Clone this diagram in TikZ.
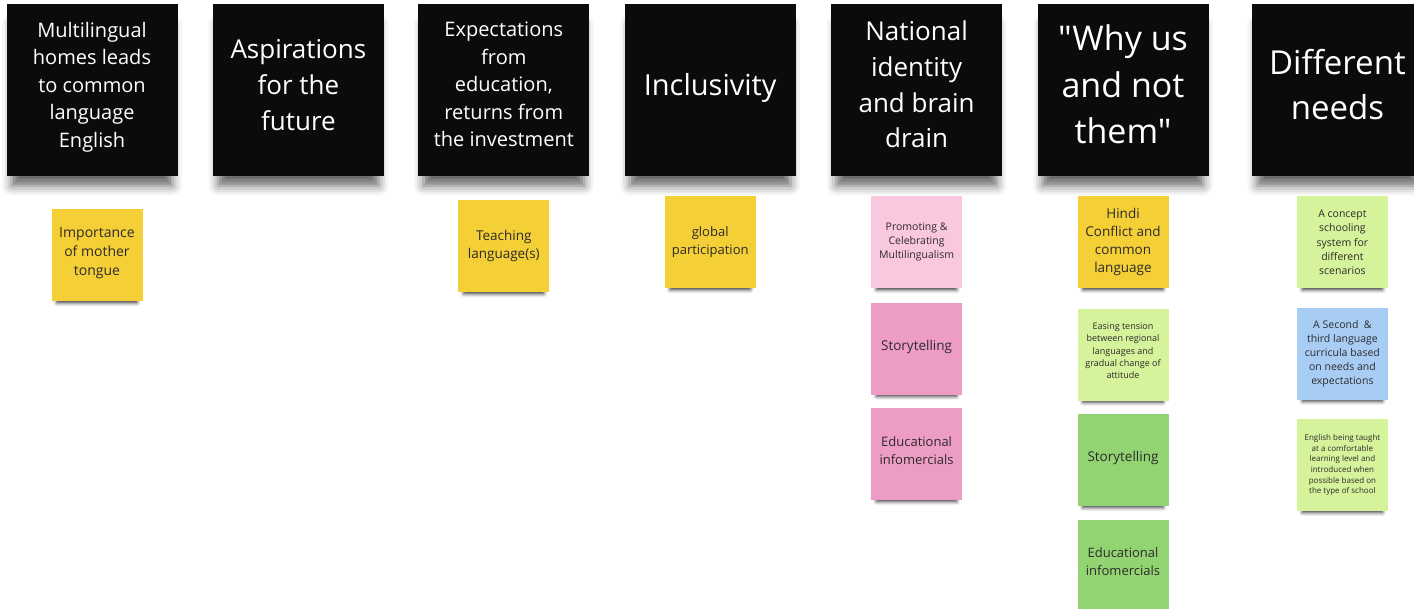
\documentclass[tikz,border=0pt]{standalone}
\usepackage{fontspec}
\setmainfont{Open Sans}[Ligatures=TeXOff]
\usetikzlibrary{positioning,shadows.blur}

\definecolor{headblack}{HTML}{0B0B0B}
\definecolor{noteyellow}{HTML}{F4CF36}
\definecolor{notepinklight}{HTML}{F9C7DE}
\definecolor{notepink}{HTML}{EC9CC5}
\definecolor{notegreenlight}{HTML}{D4F39A}
\definecolor{notegreen}{HTML}{91D471}
\definecolor{noteblue}{HTML}{A8CDF4}
\definecolor{notetext}{HTML}{2E2A2C}

\begin{document}
\begin{tikzpicture}[x=1pt,y=-1pt,node distance=35pt,
	head/.style={fill=headblack,text=white,align=center,minimum width=171pt,minimum height=172pt,inner sep=0pt,text depth=11pt,
		blur shadow={shadow xshift=0pt,shadow yshift=-16pt,shadow scale=0.94,shadow blur radius=10pt,shadow opacity=60}},
	note/.style={align=center,minimum width=91pt,minimum height=92pt,inner sep=0pt,text=notetext,
		blur shadow={shadow xshift=0pt,shadow yshift=-8pt,shadow scale=0.88,shadow blur radius=4pt,shadow opacity=80}}]
		
		\useasboundingbox (0,0) rectangle (1414,609);
		
		% headings
		\node[head,font=\fontsize{20}{27.5}\selectfont] (h1) at (92,90) {Multilingual\\homes leads\\to common\\language\\English};
		\node[head,right=of h1,font=\fontsize{26}{36}\selectfont] (h2) {Aspirations\\for the\\future};
		\node[head,right=34pt of h2,font=\fontsize{20}{27.5}\selectfont] (h3) {Expectations\\from\\education,\\returns from\\the investment};
		\node[head,right=of h3,font=\fontsize{29}{36}\selectfont] (h4) {Inclusivity};
		\node[head,right=of h4,font=\fontsize{26}{35.7}\selectfont] (h5) {National\\identity\\and brain\\drain};
		\node[head,right=of h5,font=\fontsize{34}{46.5}\selectfont] (h6) {"Why us\\and not\\them"};
		\node[head,right=43pt of h6,font=\fontsize{33}{45}\selectfont] (h7) {Different\\needs};
		
		% notes
		\node[note,fill=noteyellow,below=33pt of h1,xshift=5pt,text depth=7pt,font=\fontsize{14}{19}\selectfont] (n1) {Importance\\of mother\\tongue};
		
		\node[note,fill=noteyellow,below=24pt of h3,font=\fontsize{13.5}{18}\selectfont] (n3) {Teaching\\language(s)};
		
		\node[note,fill=noteyellow,below=20pt of h4,font=\fontsize{13}{18}\selectfont] (n4) {global\\participation};
		
		\node[note,fill=notepinklight,below=20pt of h5,font=\fontsize{10.5}{14}\selectfont] (n5a) {Promoting \&\\Celebrating\\Multilingualism};
		\node[note,fill=notepink,below=14pt of n5a,text depth=7pt,font=\fontsize{13.5}{18}\selectfont] (n5b) {Storytelling};
		\node[note,fill=notepink,below=13pt of n5b,text depth=8pt,font=\fontsize{13}{18}\selectfont] (n5c) {Educational\\infomercials};
		
		\node[note,fill=noteyellow,below=20pt of h6,font=\fontsize{13.5}{18}\selectfont] (n6a) {Hindi\\Conflict and\\common\\language};
		\node[note,fill=notegreenlight,below=20pt of n6a,text depth=8pt,font=\fontsize{9}{12.2}\selectfont] (n6b) {Easing tension\\between regional\\languages and\\gradual change of\\attitude};
		\node[note,fill=notegreen,below=13pt of n6b,text depth=7pt,font=\fontsize{13.5}{18}\selectfont] (n6c) {Storytelling};
		\node[note,fill=notegreen,below=13pt of n6c,text depth=8pt,font=\fontsize{13}{18}\selectfont] (n6d) {Educational\\infomercials};
		
		\node[note,fill=notegreenlight,below=20pt of h7,xshift=5pt,font=\fontsize{10.5}{14.2}\selectfont] (n7a) {A concept\\schooling\\system for\\different\\scenarios};
		\node[note,fill=noteblue,below=19pt of n7a,font=\fontsize{10.5}{14}\selectfont] (n7b) {A Second~ \&\\third language\\curricula based\\on needs and\\expectations};
		\node[note,fill=notegreenlight,below=19pt of n7b,font=\fontsize{8}{10.6}\selectfont] (n7c) {English being taught\\at a comfortable\\learning level and\\introduced when\\possible based on\\the type of school};
		
\end{tikzpicture}
\end{document}
